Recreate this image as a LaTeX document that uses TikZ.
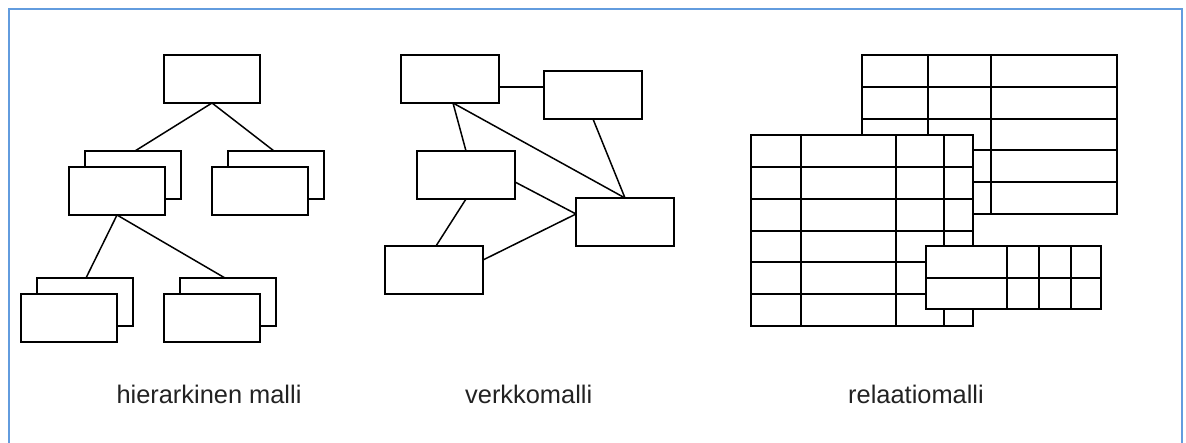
\documentclass[tikz,border=0pt]{standalone}
\usepackage{fontspec}
\setmainfont{Liberation Sans}
\definecolor{framecol}{RGB}{98,156,222}
\definecolor{txtcol}{RGB}{34,34,34}
\begin{document}
\begin{tikzpicture}[x=1bp,y=-1bp,
  box/.style={draw, fill=white, line width=1.8bp, minimum width=96bp, minimum height=48bp, inner sep=0pt, outer sep=0pt},
  nbox/.style={box, minimum width=98bp},
  link/.style={line width=1.5bp},
  grid/.style={line width=1.8bp},
  caption/.style={anchor=base, text=txtcol, font=\fontsize{25.4bp}{30bp}\selectfont, inner sep=0pt}]
\useasboundingbox (0,0) rectangle (1186,443);
% frame
\draw[framecol, line width=2bp] (9,450) -- (9,9) -- (1182,9) -- (1182,450);

% ---------------- hierarchical model ----------------
\node[box] (top) at (212,79) {};
\node[box] (mlb) at (133,175) {};
\node[box] (mlf) at (117,191) {};
\node[box] (mrb) at (276,175) {};
\node[box] (mrf) at (260,191) {};
\node[box] (blb) at (85,302) {};
\node[box] (blf) at (69,318) {};
\node[box] (brb) at (228,302) {};
\node[box] (brf) at (212,318) {};
\draw[link] (top.south) -- ([xshift=2bp]mlb.north);
\draw[link] (top.south) -- ([xshift=-2bp]mrb.north);
\draw[link] (mlf.south) -- ([xshift=1bp]blb.north);
\draw[link] (mlf.south) -- ([xshift=-3bp]brb.north);
\node[caption] (hcap) at (209,404) {hierarkinen malli};

% ---------------- network model ----------------
\node[nbox] (A) at (450,79) {};
\node[nbox] (B) at (593,95) {};
\node[nbox] (C) at (466,175) {};
\node[nbox] (D) at (625,222) {};
\node[nbox] (E) at (434,270) {};
\draw[link] ([yshift=-8bp]A.east) -- ([yshift=-8bp]A.east -| B.west);
\draw[link] ([xshift=3bp]A.south) -- (C.north);
\draw[link] ([xshift=3bp]A.south) -- (D.north);
\draw[link] (B.south) -- (D.north);
\draw[link] ([yshift=-7bp]C.east) -- ([yshift=8bp]D.west);
\draw[link] (C.south) -- ([xshift=2bp]E.north);
\draw[link] ([yshift=10bp]E.east) -- ([yshift=8bp]D.west);
\node[caption] (ncap) at (528.7,404) {verkkomalli};

% ---------------- relational model ----------------
% table 1 (back)
\filldraw[grid, fill=white] (862,55) rectangle (1117,214);
\foreach \yy in {87,119,150,182} \draw[grid] (862,\yy) -- (1117,\yy);
\foreach \xx in {928,991} \draw[grid] (\xx,55) -- (\xx,214);
% table 2 (middle)
\filldraw[grid, fill=white] (751,135) rectangle (973,326);
\foreach \yy in {167,199,231,262,294} \draw[grid] (751,\yy) -- (973,\yy);
\foreach \xx in {801,896,944} \draw[grid] (\xx,135) -- (\xx,326);
% table 3 (front)
\filldraw[grid, fill=white] (926,246) rectangle (1101,309);
\draw[grid] (926,278) -- (1101,278);
\foreach \xx in {1007,1039,1071} \draw[grid] (\xx,246) -- (\xx,309);
\node[caption] (rcap) at (916,404) {relaatiomalli};
\end{tikzpicture}
\end{document}
